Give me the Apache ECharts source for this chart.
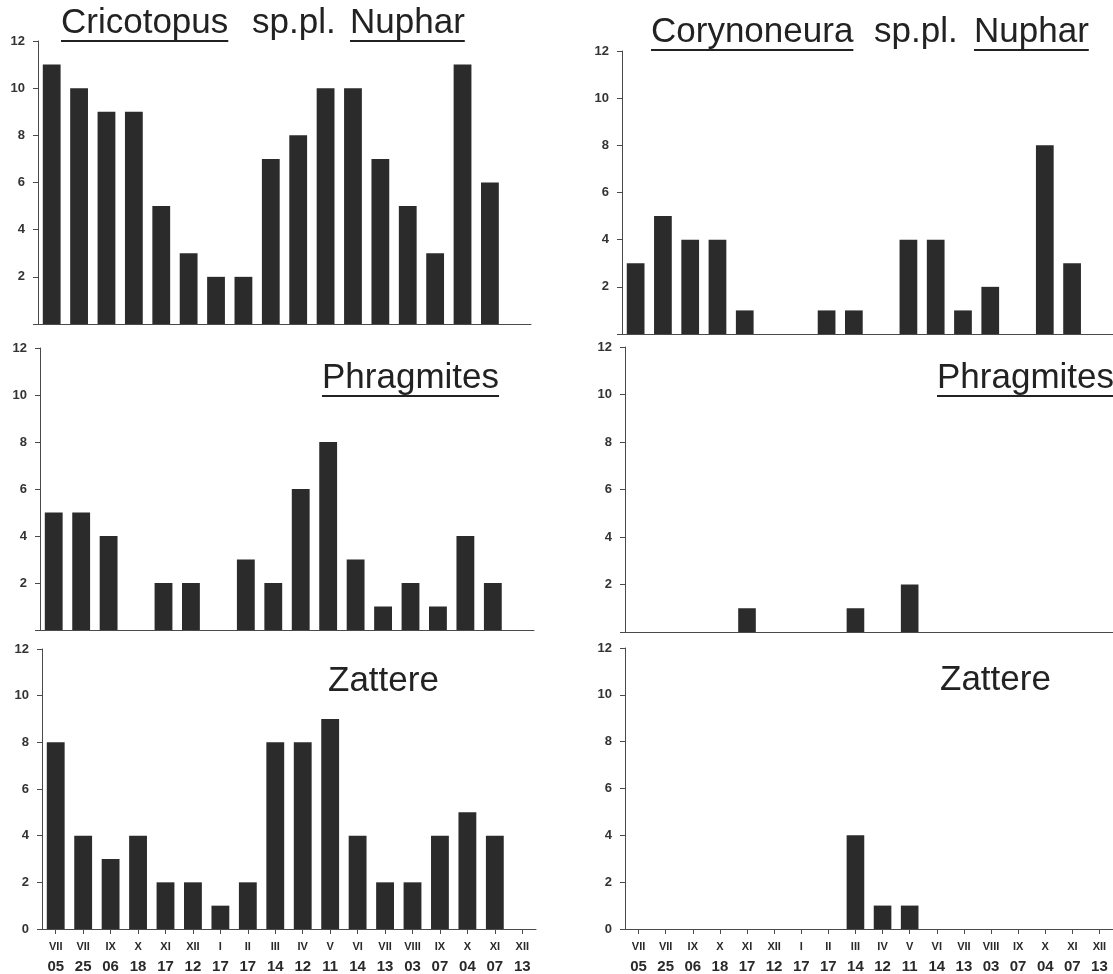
<!DOCTYPE html>
<html>
<head>
<meta charset="utf-8">
<script src="https://cdn.jsdelivr.net/npm/echarts@6/dist/echarts.min.js"></script>
<style>
html,body{margin:0;padding:0;background:#fff;}
#c{width:1113px;height:974px;}
</style>
</head>
<body>
<div id="c"></div>
<script>
// ---- data ----
const months = ['VII','VII','IX','X','XI','XII','I','II','III','IV','V','VI','VII','VIII','IX','X','XI','XII'];
const days   = ['05','25','06','18','17','12','17','17','14','12','11','14','13','03','07','04','07','13'];
const categories = months.map((m, i) => m + ' ' + days[i]);
const yTicks = [0, 2, 4, 6, 8, 10, 12];

const cricotopusNuphar     = [11,10,9,9,5,3,2,2,7,8,10,10,7,5,3,11,6,0];
const cricotopusPhragmites = [5,5,4,0,2,2,0,3,2,6,8,3,1,2,1,4,2,0];
const cricotopusZattere    = [8,4,3,4,2,2,1,2,8,8,9,4,2,2,4,5,4,0];
const corynoneuraNuphar     = [3,5,4,4,1,0,0,1,1,0,4,4,1,2,0,8,3,0];
const corynoneuraPhragmites = [0,0,0,0,1,0,0,0,1,0,2,0,0,0,0,0,0,0];
const corynoneuraZattere    = [0,0,0,0,0,0,0,0,4,1,1,0,0,0,0,0,0,0];

// ---- layout ----
const panels = [
  {grid:{left:38, top:41,  width:493, height:283}, data:cricotopusNuphar,     bottom:false},
  {grid:{left:40, top:348, width:494, height:282}, data:cricotopusPhragmites, bottom:false},
  {grid:{left:42, top:649, width:494, height:280}, data:cricotopusZattere,    bottom:true},
  {grid:{left:622,top:51,  width:492, height:283}, data:corynoneuraNuphar,     bottom:false},
  {grid:{left:625,top:347, width:491, height:285}, data:corynoneuraPhragmites, bottom:false},
  {grid:{left:625,top:648, width:491, height:281}, data:corynoneuraZattere,    bottom:true}
];

const titleFont = '35px "Liberation Sans", Arial, Helvetica, sans-serif';
const titleColor = '#222';
const titles = [
  {base:36,  words:[['Cricotopus',61,true],['sp.pl.',252,false],['Nuphar',350,true]]},
  {base:45,  words:[['Corynoneura',651,true],['sp.pl.',874,false],['Nuphar',974,true]]},
  {base:391, words:[['Phragmites',322,true]]},
  {base:391, words:[['Phragmites',937,true]]},
  {base:694, words:[['Zattere',328,false]]},
  {base:693, words:[['Zattere',940,false]]}
];

const ctx = document.createElement('canvas').getContext('2d');
ctx.font = titleFont;
const graphic = [];
titles.forEach(t => {
  t.words.forEach(([w, x, u]) => {
    graphic.push({type:'text', x:x, y:t.base - 12.2, silent:true,
      style:{text:w, font:titleFont, fill:titleColor, align:'left', verticalAlign:'middle'}});
    if (u) {
      graphic.push({type:'rect', silent:true,
        shape:{x:x, y:t.base + 4, width:ctx.measureText(w).width, height:2},
        style:{fill:titleColor}});
    }
  });
});

const axisColor = '#4a4a4a';
const grids = [], xAxes = [], yAxes = [], series = [];
panels.forEach((p, i) => {
  grids.push(Object.assign({containLabel:false}, p.grid));
  xAxes.push({
    type:'category', gridIndex:i, data:categories, boundaryGap:true,
    axisLine:{show:true, lineStyle:{color:axisColor, width:1}},
    axisTick:{show:p.bottom, alignWithLabel:true, length:5, lineStyle:{color:axisColor}},
    axisLabel:{
      show:p.bottom, interval:0, margin:8,
      formatter:(v, idx) => '{r|' + months[idx] + '}\n{d|' + days[idx] + '}',
      rich:{
        r:{fontFamily:'"Liberation Sans", Arial, sans-serif', fontSize:11, fontWeight:'bold', color:'#2a2a2a', lineHeight:19, align:'center'},
        d:{fontFamily:'"Liberation Sans", Arial, sans-serif', fontSize:15, fontWeight:'bold', color:'#2a2a2a', lineHeight:21, align:'center'}
      }
    },
    splitLine:{show:false}
  });
  yAxes.push({
    type:'value', gridIndex:i, min:yTicks[0], max:yTicks[yTicks.length-1], interval:yTicks[1]-yTicks[0],
    axisLine:{show:true, lineStyle:{color:axisColor, width:1}},
    axisTick:{show:true, length:5, lineStyle:{color:axisColor}},
    axisLabel:{
      margin:13, fontFamily:'"Liberation Sans", Arial, sans-serif', fontSize:13, fontWeight:'bold', color:'#333',
      formatter: v => (v === 0 && !p.bottom) ? '' : String(v)
    },
    splitLine:{show:false}
  });
  series.push({
    type:'bar', xAxisIndex:i, yAxisIndex:i, data:p.data, barWidth:'65%',
    itemStyle:{color:'#2b2b2b'}, silent:true, animation:false
  });
});

const chart = echarts.init(document.getElementById('c'), null, {renderer:'canvas'});
chart.setOption({
  animation:false,
  backgroundColor:'#ffffff',
  grid:grids, xAxis:xAxes, yAxis:yAxes, series:series, graphic:graphic
});
</script>
</body>
</html>
